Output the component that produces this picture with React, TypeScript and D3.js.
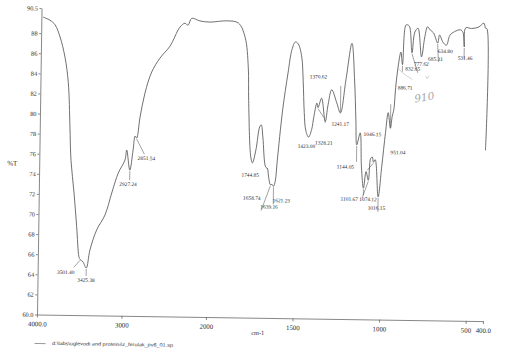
import { useEffect, useRef } from "react";
import * as d3 from "d3";

// FTIR spectrum
const wavenumber = [
  3980, 3898, 3837, 3776, 3714, 3670, 3643, 3625, 3583, 3546, 3514, 3501.4, 3465,
  3425.38, 3385, 3309, 3213, 3137, 3063, 2986, 2967, 2927.24, 2892, 2870, 2851.54,
  2815, 2761, 2685, 2589, 2473, 2359, 2300, 2264, 2221, 2124, 2004, 1905, 1838, 1798,
  1777, 1772, 1755, 1744.85, 1726, 1706, 1697, 1687, 1668, 1658.74, 1650, 1639.16,
  1630, 1621.23, 1611, 1602, 1575, 1547, 1526, 1507, 1490, 1469, 1459, 1450, 1440,
  1423.0, 1406, 1394, 1378, 1370.62, 1351, 1328.21, 1313, 1293, 1263, 1241.17, 1212,
  1180, 1162, 1151, 1144.05, 1125, 1115, 1101.67, 1088, 1074.12, 1062, 1053, 1046.15,
  1036, 1016.15, 998, 979, 965, 951.04, 942, 933, 924, 912, 897, 886.71, 870, 858, 848,
  832.65, 818, 800, 777.62, 760, 745, 730, 710, 685.31, 675, 655, 634.8, 615, 590, 555,
  540, 531.46, 525, 490, 450, 420, 410, 402, 400,
];
const transmittance = [
  89.6, 89.3, 88.85, 87.65, 85.65, 83.1, 78.7, 75.4, 72.15, 68.8, 65.8, 65.55, 65.3,
  64.7, 66.5, 68.5, 70.0, 72.2, 74.2, 75.5, 76.5, 74.5, 76.5, 77.9, 77.7,
  79.8, 82.2, 84.3, 85.7, 86.9, 88.8, 89.2, 89.0, 89.7, 89.45, 89.35, 89.5, 89.3, 87.9,
  84.9, 81.6, 76.0, 75.4, 76.7, 79.0, 79.2, 78.0, 75.0, 74.9, 74.0, 73.25,
  73.3, 73.1, 73.7, 75.6, 80.7, 84.4, 86.75, 87.5, 87.3, 86.0, 83.7, 80.5, 78.75,
  78.05, 78.8, 80.1, 81.45, 81.0, 81.95, 79.6, 81.3, 82.8, 81.5, 80.5, 83.8,
  87.45, 83.8, 79.8, 77.35, 78.55, 75.15, 73.05, 74.7, 73.85, 76.05, 76.15, 75.65,
  75.9, 72.2, 75.2, 78.6, 80.6, 79.05, 80.2, 80.9, 83.15, 85.15, 86.65, 85.4, 89.35, 89.35, 89.15,
  86.6, 88.65, 89.05, 86.2, 88.2, 89.2, 88.9, 88.6, 87.6, 88.4, 87.7, 87.4, 88.4, 88.75, 88.95,
  88.7, 87.25, 89.15, 89.1, 89.25, 89.65, 89.15, 89.1, 77.0,
];

const peakLabels = [
  3501.4, 3425.38, 2927.24, 2851.54, 1744.85, 1658.74, 1639.16, 1621.23, 1423.0,
  1370.62, 1328.21, 1241.17, 1144.05, 1101.67, 1074.12, 1046.15, 1016.15, 951.04,
  886.71, 832.65, 777.62, 685.31, 634.8, 531.46,
];

const xTicks = [4000, 3000, 2000, 1500, 1000, 500, 400];
const xTickLabels = ["4000.0", "3000", "2000", "1500", "1000", "500", "400.0"];
const yTicks = [60, 62, 64, 66, 68, 70, 72, 74, 76, 78, 80, 82, 84, 86, 88, 90.5];
const yTickLabels = ["60.0", "62", "64", "66", "68", "70", "72", "74", "76", "78", "80", "82", "84", "86", "88", "90.5"];
const xTitle = "cm-1";
const yTitle = "%T";
const fileName = "d:\\labs\\uglevodi and proteini\\z_ferulak_pv6_01.sp";
const pencilNote = "910";

// where each peak label sits relative to its point: [text dx, text dy, leader end dx, leader end dy]
const labelLayout = [
  [-14, 13, -6, 8], [0, 12, 0, 8], [-1.5, 14, 0, 10], [10, 20, 8, 16],
  [-2, 12, 0, 0], [-15, 30, -9, 26], [-1, 22, 0, 18], [8, 14, 6, 10],
  [-2, 9, 0, 0], [0, -31, 0, -27], [-1, 21, 0, 17], [0, 11, 0, 7],
  [-11, 22, -6, 18], [-14, 11, -6, 8], [0, 19, 0, 15], [-1.5, -28, 0, -24],
  [-1.5, 11, 0, 7], [8, 24, 6, 20], [3, 23, 1, 19], [1, 16, 0, 12],
  [0, 7, 0, 0], [-2, 16, 0, 12], [-1, 6, 0, 0], [1, 11, 0, 7],
];

const width = 510;
const height = 360;
const serif = "'Liberation Serif', 'Times New Roman', serif";

export default function App() {
  const ref = useRef<SVGSVGElement>(null);

  useEffect(() => {
    const svg = d3.select(ref.current);
    svg.selectAll("*").remove();

    const x = d3.scaleLinear().domain([4000, 2000, 400]).range([37, 206, 483]);
    const y = d3.scaleLinear().domain([60, 90.5]).range([314.5, 8]);

    // the scan is slightly tilted
    const g = svg.append("g").attr("transform", "rotate(0.85,37,314.5)");

    const yAxis = d3
      .axisLeft(y)
      .tickValues(yTicks)
      .tickFormat((_, i) => yTickLabels[i])
      .tickSize(2)
      .tickSizeOuter(0)
      .tickPadding(1.5);
    const xAxis = d3
      .axisBottom(x)
      .tickValues(xTicks)
      .tickFormat((_, i) => xTickLabels[i])
      .tickSize(3)
      .tickSizeOuter(0)
      .tickPadding(4);

    const styleAxis = (a: any, size: number) => {
      a.attr("font-family", serif).attr("font-size", size);
      a.selectAll("path, line").attr("stroke", "#6a6a6a").attr("stroke-width", 0.8);
      a.selectAll("text").attr("fill", "#2a2a2a");
    };

    g.append("g")
      .attr("transform", "translate(37,0)")
      .call(yAxis)
      .call((a: any) => styleAxis(a, 6.3));

    g.append("g")
      .attr("transform", "translate(0,314.5)")
      .call(xAxis)
      .call((a: any) => styleAxis(a, 6.8));

    g.append("text")
      .attr("x", 10)
      .attr("y", 163.5)
      .attr("dy", "0.35em")
      .attr("text-anchor", "middle")
      .attr("font-family", serif)
      .attr("font-size", 7)
      .attr("fill", "#2a2a2a")
      .text(yTitle);

    g.append("text")
      .attr("x", 258)
      .attr("y", 329.5)
      .attr("dy", "0.35em")
      .attr("text-anchor", "middle")
      .attr("font-family", serif)
      .attr("font-size", 6.3)
      .attr("fill", "#2a2a2a")
      .text(xTitle);

    g.append("line")
      .attr("x1", 35)
      .attr("x2", 46)
      .attr("y1", 343.5)
      .attr("y2", 343.5)
      .attr("stroke", "#555")
      .attr("stroke-width", 0.6);
    g.append("text")
      .attr("x", 52.5)
      .attr("y", 343)
      .attr("dy", "0.35em")
      .attr("font-family", "'Liberation Sans', Arial, sans-serif")
      .attr("font-size", 4.9)
      .attr("textLength", 121)
      .attr("lengthAdjust", "spacingAndGlyphs")
      .attr("fill", "#333")
      .text(fileName);

    // spectrum
    const line = d3
      .line<number>()
      .x((i) => x(wavenumber[i]))
      .y((i) => y(transmittance[i]))
      .curve(d3.curveCatmullRom.alpha(0.5));

    g.append("path")
      .attr("d", line(d3.range(wavenumber.length)))
      .attr("fill", "none")
      .attr("stroke", "#585858")
      .attr("stroke-width", 0.85)
      .attr("stroke-linejoin", "round");

    // peak labels
    const peaks = g
      .append("g")
      .selectAll("g")
      .data(peakLabels)
      .join("g")
      .attr("transform", (wn) => {
        const k = wavenumber.indexOf(wn);
        return `translate(${x(wn)},${y(transmittance[k])})`;
      });

    peaks
      .filter((_, i) => labelLayout[i][2] !== 0 || labelLayout[i][3] !== 0)
      .append("line")
      .attr("x1", (_, i) => (labelLayout[i][3] < 0 ? 0 : 0))
      .attr("y1", (_, i) => (labelLayout[i][3] < 0 ? -1 : 1))
      .attr("x2", (_, i) => labelLayout[i][2])
      .attr("y2", (_, i) => labelLayout[i][3])
      .attr("stroke", "#444")
      .attr("stroke-width", 0.5);

    peaks
      .append("text")
      .attr("x", (_, i) => labelLayout[i][0])
      .attr("y", (_, i) => labelLayout[i][1])
      .attr("dy", "0.35em")
      .attr("text-anchor", "middle")
      .attr("font-family", serif)
      .attr("font-size", 5.4)
      .attr("fill", "#1e1e1e")
      .text((wn) => wn.toFixed(2));

    // pencil note on the print
    g.append("text")
      .attr("x", 421)
      .attr("y", 91.5)
      .attr("dy", "0.35em")
      .attr("text-anchor", "middle")
      .attr("transform", "rotate(-10,421,91.5)")
      .attr("font-family", "'DejaVu Serif', serif")
      .attr("font-style", "italic")
      .attr("font-size", 10.5)
      .attr("fill", "#a8a8a8")
      .text(pencilNote);
    g.append("path")
      .attr("d", "M394,63 Q401,70 409,74 M422,70 l1.5,3 l2,-3")
      .attr("fill", "none")
      .attr("stroke", "#b5b5b5")
      .attr("stroke-width", 0.6);
  }, []);

  return (
    <svg
      ref={ref}
      width={width}
      height={height}
      viewBox={`0 0 ${width} ${height}`}
      style={{ position: "absolute", left: 0, top: 0, background: "#fff" }}
    />
  );
}
